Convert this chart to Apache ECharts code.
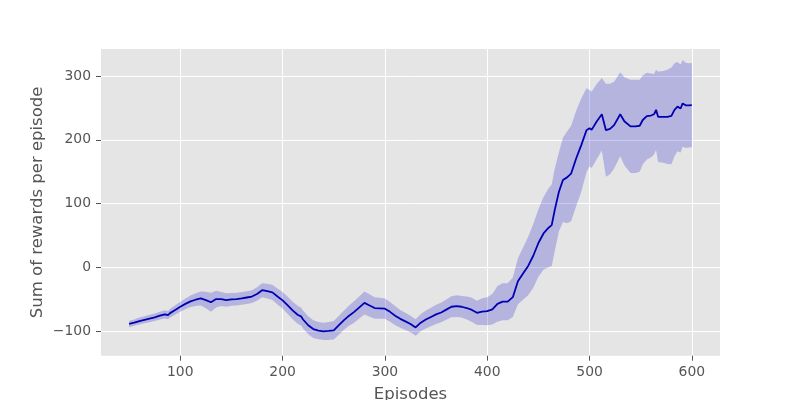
<!DOCTYPE html>
<html>
<head>
<meta charset="utf-8">
<script src="https://cdn.jsdelivr.net/npm/echarts@6/dist/echarts.min.js"></script>
<style>html,body{margin:0;padding:0;background:#fff}#c{width:800px;height:400px}</style>
</head>
<body>
<div id="c"></div>
<script>
const episodes = [50,55,60,65,70,75,80,85,88,90,95,100,105,110,115,120,125,130,135,140,145,150,155,160,165,170,175,180,185,190,195,200,205,210,215,218,220,225,230,235,240,245,250,255,260,265,270,275,280,285,290,295,300,305,310,315,320,325,330,335,340,345,350,355,360,365,370,375,380,385,390,395,400,405,410,415,420,425,430,435,440,445,450,455,460,463,466,470,474,478,482,487,492,497,500,502,507,512,516,520,524,530,534,540,545,549,552,556,560,563,565,567,572,576,580,583,586,589,591,594,597,600];
const meanReward = [-89,-87,-84.5,-82.5,-80.5,-78.5,-76,-74,-75,-72,-67,-62,-57.5,-53.5,-51,-49,-51.5,-55,-50,-50,-51.5,-50.5,-50,-49,-47.5,-46,-42,-36,-37.5,-39.5,-46,-52,-60,-68,-75,-77,-82,-91,-97,-99.5,-100.5,-100,-99,-91,-83,-76,-70,-63,-56,-60,-64,-64.5,-65,-70,-76,-81,-85,-89,-94.5,-87,-82,-78,-74,-71,-66.5,-62,-61,-62,-64,-67,-71.5,-69.5,-69,-66,-57.5,-54,-54,-47,-22,-10,2,18,38,53,62,66,90,118,137,141,147,171,192,215,218,215.5,228.6,240,215,217,223,240,229,221,221,222,231,237,238,240,247,236,236,236,237.5,247,252,249,257,254,254,254.5];
const stdReward = [5,5,5.5,5.5,6,6,6,6.5,6.5,7,7.5,8,8.5,9,10,11,13,15,13,11,10.5,10,10,10,10,10,10.5,11,11.5,12,12.5,13,13.5,14,14,14,14,14,14,13.5,13.5,14,14.5,15,15,16,17,17.5,18,17.5,17,16.5,16,15.5,15,14,13.5,13,13,13.5,14,14.5,15,15.5,16,16.5,17,17,18,19,19,21,22,24,28,29,29,31,36,41,46,50,53,57,62,64,65,62,66,72,75,75,73,66,60,60,59,57,73,71,68,66,69,73,73,72,70,68,66,63,63,71,72,74,76,73,70,69,68,67,66,66];
const xTicks = [100,200,300,400,500,600];
const yTicks = [-100,0,100,200,300];

const bandData = episodes.map((e,i)=>[e, meanReward[i]-stdReward[i], meanReward[i]+stdReward[i]]);
const meanLine = episodes.map((e,i)=>[e, meanReward[i]]);

const font = 'DejaVu Sans';
const txt = '#555555';
const chart = echarts.init(document.getElementById('c'), null, {renderer:'canvas'});
chart.setOption({
  animation:false,
  grid:{left:101,right:80,top:49,bottom:44.3,show:true,backgroundColor:'#E5E5E5',borderWidth:0,
        containLabel:false,outerBoundsMode:'none'},
  xAxis:{
    type:'value',min:22.5,max:627.5,
    name:'Episodes',nameLocation:'middle',nameGap:31,nameMoveOverlap:false,
    nameTextStyle:{fontFamily:font,fontSize:16.5,color:txt},
    axisLine:{show:false,onZero:false},
    axisTick:{show:true,length:5,customValues:xTicks,lineStyle:{color:txt,width:1}},
    axisLabel:{customValues:xTicks,fontFamily:font,fontSize:13.9,color:txt,margin:10},
    splitLine:{show:true,lineStyle:{color:'#ffffff',width:1}}
  },
  yAxis:{
    type:'value',min:-138.8,max:342.4,
    name:'Sum of rewards per episode',nameLocation:'middle',nameGap:55,nameMoveOverlap:false,
    nameTextStyle:{fontFamily:font,fontSize:16.5,color:txt},
    axisLine:{show:false,onZero:false},
    axisTick:{show:true,length:5,customValues:yTicks,lineStyle:{color:txt,width:1}},
    axisLabel:{customValues:yTicks,fontFamily:font,fontSize:13.9,color:txt,margin:10,
      formatter:v=>String(v).replace('-','\u2212')},
    splitLine:{show:true,lineStyle:{color:'#ffffff',width:1}}
  },
  series:[
    {type:'custom',silent:true,data:bandData,encode:{x:0,y:[1,2]},
     renderItem:function(params, api){
       if (params.dataIndex !== 0) return null;
       const pts = [];
       for (let i=0;i<bandData.length;i++) pts.push(api.coord([bandData[i][0], bandData[i][2]]));
       for (let i=bandData.length-1;i>=0;i--) pts.push(api.coord([bandData[i][0], bandData[i][1]]));
       return {type:'polygon',shape:{points:pts},style:{fill:'rgba(0,0,205,0.21)'}};
     }},
    {type:'line',data:meanLine,symbol:'none',lineStyle:{color:'#0000B4',width:1.8}}
  ]
});
</script>
</body>
</html>
